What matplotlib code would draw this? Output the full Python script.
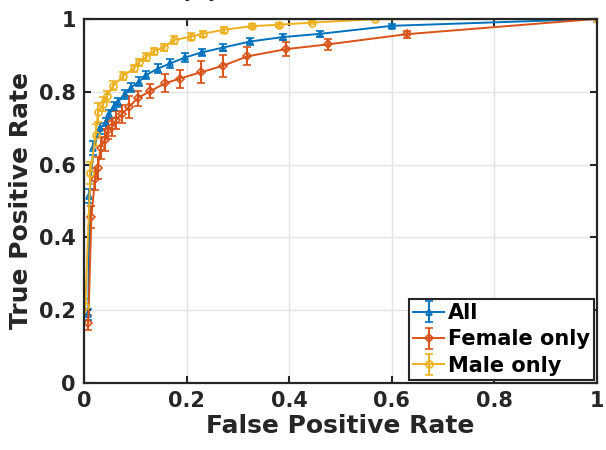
import numpy as np
import matplotlib
matplotlib.use("Agg")
import matplotlib.pyplot as plt

# ROC points (false positive rate, true positive rate, error)
all_fpr = [0.008, 0.010, 0.018, 0.030, 0.042, 0.049, 0.058, 0.065, 0.079, 0.091, 0.107,
           0.121, 0.143, 0.168, 0.197, 0.229, 0.270, 0.324, 0.387, 0.460, 0.600, 1.0]
all_tpr = [0.189, 0.514, 0.645, 0.700, 0.713, 0.738, 0.759, 0.771, 0.793, 0.811, 0.828,
           0.846, 0.863, 0.878, 0.894, 0.908, 0.921, 0.938, 0.950, 0.959, 0.981, 1.0]
all_err = [0.015, 0.02, 0.02, 0.015, 0.015, 0.012, 0.012, 0.012, 0.012, 0.012, 0.012,
           0.012, 0.012, 0.012, 0.012, 0.01, 0.01, 0.01, 0.008, 0.008, 0.006, 0.0]

fem_fpr = [0.008, 0.014, 0.021, 0.026, 0.032, 0.040, 0.047, 0.055, 0.062, 0.073, 0.088,
           0.104, 0.129, 0.158, 0.186, 0.227, 0.270, 0.318, 0.394, 0.475, 0.629, 1.0]
fem_tpr = [0.166, 0.457, 0.560, 0.590, 0.645, 0.668, 0.695, 0.704, 0.722, 0.738, 0.759,
           0.782, 0.802, 0.823, 0.836, 0.853, 0.871, 0.897, 0.917, 0.930, 0.958, 1.0]
fem_err = [0.02, 0.03, 0.03, 0.03, 0.03, 0.03, 0.025, 0.025, 0.025, 0.025, 0.03,
           0.02, 0.02, 0.025, 0.025, 0.03, 0.03, 0.025, 0.02, 0.015, 0.01, 0.0]

male_fpr = [0.002, 0.012, 0.022, 0.027, 0.037, 0.044, 0.057, 0.076, 0.097, 0.106, 0.121,
            0.136, 0.155, 0.175, 0.208, 0.231, 0.272, 0.327, 0.379, 0.445, 0.567, 1.0]
male_tpr = [0.210, 0.576, 0.680, 0.743, 0.766, 0.787, 0.817, 0.843, 0.864, 0.881, 0.895,
            0.911, 0.922, 0.942, 0.951, 0.959, 0.970, 0.980, 0.984, 0.990, 0.999, 1.0]
male_err = [0.02, 0.03, 0.03, 0.025, 0.02, 0.015, 0.012, 0.01, 0.01, 0.01, 0.01,
            0.01, 0.01, 0.012, 0.01, 0.008, 0.008, 0.006, 0.005, 0.004, 0.002, 0.0]

labels = ['All', 'Female only', 'Male only']
ticks = [0, 0.2, 0.4, 0.6, 0.8, 1]
tick_labels = ['0', '0.2', '0.4', '0.6', '0.8', '1']

plt.rcParams['font.family'] = 'DejaVu Sans'
plt.rcParams['font.weight'] = 'bold'
txt = '#262626'

fig = plt.figure(figsize=(6.06, 4.5), dpi=100)
ax = fig.add_axes([0.139, 0.149, 0.846, 0.809])

series = [(all_fpr, all_tpr, all_err, '#0072BD', '^'),
          (fem_fpr, fem_tpr, fem_err, '#D95319', 'D'),
          (male_fpr, male_tpr, male_err, '#EDB120', 'o')]
for (x, y, e, c, m), lab in zip(series, labels):
    ms = 4 if m == 'D' else 5
    ax.errorbar(x, y, yerr=e, color=c, marker=m, ms=ms, mfc='none', mew=1.2,
                lw=1.4, elinewidth=1.4, capsize=3, capthick=1.4, label=lab)

ax.set_xlim(0, 1)
ax.set_ylim(0, 1)
ax.set_xticks(ticks)
ax.set_xticklabels(tick_labels)
ax.set_yticks(ticks)
ax.set_yticklabels(tick_labels)
ax.grid(True, color='#e3e3e3', lw=1.0)
ax.set_axisbelow(True)
ax.tick_params(direction='in', length=5, width=1.5, top=True, right=True,
               labelsize=15, colors='#262626', pad=6)
for s in ax.spines.values():
    s.set_linewidth(1.6)
    s.set_color('#262626')

ax.set_xlabel('False Positive Rate', fontsize=18, fontweight='bold', color=txt, labelpad=2)
ax.set_ylabel('True Positive Rate', fontsize=18, fontweight='bold', color=txt, labelpad=4)

leg = ax.legend(loc='lower right', fontsize=15, handlelength=1.5, handletextpad=0.15,
                borderpad=0.2, labelspacing=0.3, borderaxespad=0.15, fancybox=False,
                framealpha=1, edgecolor='#262626')
leg.get_frame().set_linewidth(1.5)
for t in leg.get_texts():
    t.set_fontweight('bold')
    t.set_color('black')

fig.text(200 / 606, 1 - 3 / 450, '(a)', ha='center', va='bottom', fontsize=18,
         fontweight='bold', color=txt)

fig.savefig('out.png', dpi=100)
